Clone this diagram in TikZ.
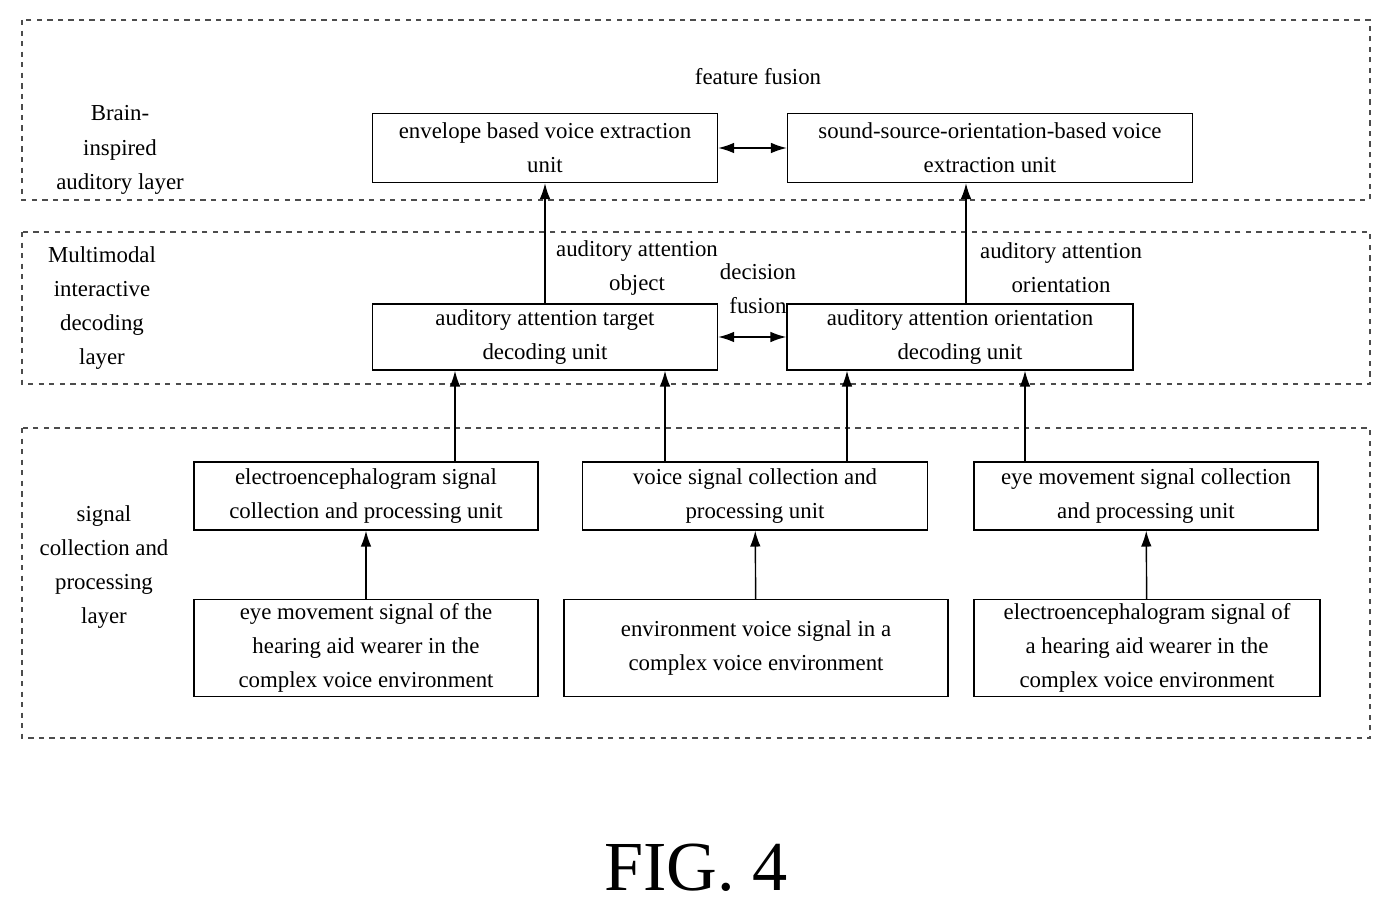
\documentclass[tikz,border=0pt]{standalone}
\usepackage{fontspec}
\setmainfont{Liberation Serif}
\usetikzlibrary{arrows.meta}

\begin{document}
\begin{tikzpicture}[x=0.02cm, y=-0.02cm,
  unit/.style={draw, thick, align=center, inner sep=1pt,
    font=\fontsize{13}{19.5}\selectfont},
  layer/.style={draw, dashed, thick, gray!60!black},
  note/.style={align=center, font=\fontsize{13}{19.5}\selectfont},
  arr/.style={thick, -{Latex[length=9pt, width=6pt]}},
  both/.style={thick, {Latex[length=9pt, width=6pt]}-{Latex[length=9pt, width=6pt]}}]
\useasboundingbox (0,0) rectangle (1392,912);

% layers
\draw[layer] (22,20)  rectangle (1370,200);
\draw[layer] (22,232) rectangle (1370,384);
\draw[layer] (22,428) rectangle (1370,738);

\node[note] (toplbl) at (120,150) {Brain-\\inspired\\auditory layer};
\node[note] (midlbl) at (102,308) {Multimodal\\interactive\\decoding\\layer};
\node[note] (botlbl) at (104,567) {signal\\collection and\\processing\\layer};

% brain-inspired auditory layer
\node[note] (fusion) at (758,77) {feature fusion};
\node[unit, minimum width=345*0.02cm, minimum height=69*0.02cm] (env) at (545,148)
  {envelope based voice extraction\\unit};
\node[unit, minimum width=405*0.02cm, minimum height=69*0.02cm] (ssov) at (990,148)
  {sound-source-orientation-based voice\\extraction unit};

% decoding layer
\node[unit, minimum width=345*0.02cm, minimum height=66*0.02cm] (aat) at (545,337)
  {auditory attention target\\decoding unit};
\node[unit, minimum width=346*0.02cm, minimum height=66*0.02cm] (aao) at (960,337)
  {auditory attention orientation\\decoding unit};
\node[note] (objlbl) at (637,268) {auditory attention\\object};
\node[note] (declbl) at (758,289) {decision\\fusion};
\node[note] (orilbl) at (1061,268) {auditory attention\\orientation};

% signal collection and processing layer
\node[unit, minimum width=344*0.02cm, minimum height=68*0.02cm] (eeg) at (366,496)
  {electroencephalogram signal\\collection and processing unit};
\node[unit, minimum width=345*0.02cm, minimum height=68*0.02cm] (voice) at (755,496)
  {voice signal collection and\\processing unit};
\node[unit, minimum width=344*0.02cm, minimum height=68*0.02cm] (eye) at (1146,496)
  {eye movement signal collection\\and processing unit};
\node[unit, minimum width=344*0.02cm, minimum height=97*0.02cm] (eyes) at (366,648)
  {eye movement signal of the\\hearing aid wearer in the\\complex voice environment};
\node[unit, minimum width=384*0.02cm, minimum height=97*0.02cm] (envs) at (756,648)
  {environment voice signal in a\\complex voice environment};
\node[unit, minimum width=346*0.02cm, minimum height=97*0.02cm] (eegs) at (1147,648)
  {electroencephalogram signal of\\a hearing aid wearer in the\\complex voice environment};

% connectors
\draw[arr] (eyes) -- (eeg);
\draw[arr] (envs) -- (voice);
\draw[arr] (eegs) -- (eye);
\draw[arr] ([shift={(89,0)}]eeg.north) -- ([shift={(-90,0)}]aat.south);
\draw[arr] ([shift={(-90,0)}]voice.north) -- ([shift={(120,0)}]aat.south);
\draw[arr] ([shift={(92,0)}]voice.north) -- ([shift={(-113,0)}]aao.south);
\draw[arr] ([shift={(-121,0)}]eye.north) -- ([shift={(65,0)}]aao.south);
\draw[arr] (aat) -- (env);
\draw[arr] ([shift={(6,0)}]aao.north) -- ([shift={(-24,0)}]ssov.south);
\draw[both] (env) -- (ssov);
\draw[both] (aat) -- (aao);

\node[font=\fontsize{40}{44}\selectfont] (fig) at (696,868) {FIG. 4};
\end{tikzpicture}
\end{document}
